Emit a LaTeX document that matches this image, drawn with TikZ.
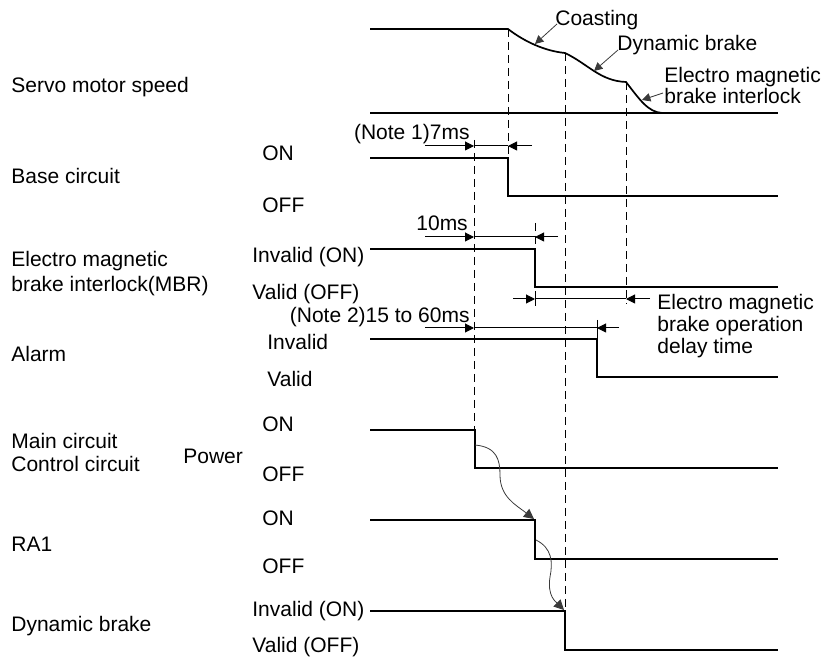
\documentclass[tikz,border=0pt]{standalone}
\usepackage{fontspec}
\setmainfont{Liberation Sans}
\usepackage{tikz}
\usetikzlibrary{arrows.meta}
\definecolor{Ink}{HTML}{000000}
\definecolor{PointerGray}{HTML}{3A3A3A}
\newcommand{\lblfont}{\fontsize{10.5}{12.6}\selectfont}
\newcommand{\drawsignal}[3]{%
  \draw[Ink,line width=0.85pt] (370,#1) -- (#2,#1) -- (#2,#3) -- (778,#3);%
}
\newcommand{\drawtimespan}[5]{%
  \draw[Ink,line width=0.5pt,-{Triangle[length=4.5pt,width=4.5pt]}]
    (#2,#1) -- (#3,#1);
  \draw[Ink,line width=0.5pt] (#3,#1) -- (#4,#1);
  \draw[Ink,line width=0.5pt,-{Triangle[length=4.5pt,width=4.5pt]}]
    (#5,#1) -- (#4,#1);%
}

\begin{document}
\begin{tikzpicture}[x=0.5pt,y=-0.5pt,
    lbl/.style={font=\lblfont,inner sep=0pt,anchor=west,
                text height=7.5pt,text depth=0pt},
    dashline/.style={Ink,line width=0.5pt,dash pattern=on 4pt off 2.5pt},
    pointer/.style={PointerGray,line width=0.4pt,
                    -{Triangle[length=4.2pt,width=4.2pt]}},
    seqarrow/.style={PointerGray,line width=0.4pt,
                     -{Triangle[length=5pt,width=5pt]}}]
        \useasboundingbox (0,0) rectangle (826,657);
        % servo motor speed
        \draw[Ink,line width=0.85pt] (370,29) -- (508,29)
          .. controls (525,42) and (545,51) .. (565,53)
          .. controls (588,64) and (600,81) .. (626,82)
          .. controls (640,100) and (648,112) .. (662,113);
        \draw[Ink,line width=0.85pt] (370,113) -- (778,113);
        \node[lbl] (lblspeed) at (11,85) {Servo motor speed};
        \node[lbl] (lblcoast) at (555,18) {Coasting};
        \node[lbl] (lbldyn) at (617,43) {Dynamic brake};
        \node[lbl] (lblinter1) at (664,75) {Electro magnetic};
        \node[lbl] (lblinter2) at (664,96) {brake interlock};
        \coordinate (coastpt) at (535,44);
        \coordinate (dynpt) at (594,71);
        \coordinate (interpt) at (642,100);
        \draw[pointer] ([shift={(2,6)}]lblcoast.west) -- (coastpt);
        \draw[pointer] ([shift={(1,7)}]lbldyn.west) -- (dynpt);
        \draw[pointer] ([shift={(-1,-3)}]lblinter2.west) -- (interpt);
        % dashed timing marks
        \draw[dashline] (474,140) -- (474,430);
        \draw[dashline] (508,29) -- (508,158);
        \draw[dashline] (535,223) -- (535,249);
        \draw[dashline] (565,53) -- (565,611);
        \draw[dashline] (626,82) -- (626,304);
        \draw[Ink,line width=0.5pt] (535,291) -- (535,306);
        \draw[Ink,line width=0.5pt] (597,320) -- (597,339);
        % signals
        \drawsignal{158}{508}{196}
        \drawsignal{249}{535}{287}
        \drawsignal{339}{597}{377}
        \drawsignal{430}{475}{468}
        \drawsignal{520}{535}{559}
        \drawsignal{611}{565}{650}
        % time spans
        \drawtimespan{146}{425}{474}{508}{532}
        \drawtimespan{237}{425}{474}{535}{558}
        \drawtimespan{299}{513}{535}{626}{650}
        \drawtimespan{328}{425}{474}{597}{619}
        \node[lbl,anchor=east] (lblnote1) at (470,132) {(Note 1)7ms};
        \node[lbl] (lbltenms) at (416,223) {10ms};
        \node[lbl,anchor=east] (lblnote2) at (470,315) {(Note 2)15 to 60ms};
        \node[lbl] (lbldelay1) at (657,302) {Electro magnetic};
        \node[lbl] (lbldelay2) at (657,324) {brake operation};
        \node[lbl] (lbldelay3) at (657,346) {delay time};
        % signal names
        \node[lbl] (lblbase) at (11,176) {Base circuit};
        \node[lbl] (lblmbr1) at (11,259) {Electro magnetic};
        \node[lbl] (lblmbr2) at (11,284) {brake interlock(MBR)};
        \node[lbl] (lblalarm) at (11,354) {Alarm};
        \node[lbl] (lblmain) at (11,441) {Main circuit};
        \node[lbl] (lblctrl) at (11,464) {Control circuit};
        \node[lbl] (lblpower) at (183,456) {Power};
        \node[lbl] (lblra) at (11,544) {RA1};
        \node[lbl] (lbldb) at (11,624) {Dynamic brake};
        % levels
        \node[lbl] (basehi) at (262,153) {ON};
        \node[lbl] (baselo) at (262,205) {OFF};
        \node[lbl] (mbrhi) at (252,255) {Invalid (ON)};
        \node[lbl] (mbrlo) at (252,292) {Valid (OFF)};
        \node[lbl] (alarmhi) at (267,342) {Invalid};
        \node[lbl] (alarmlo) at (267,379) {Valid};
        \node[lbl] (mainhi) at (262,424) {ON};
        \node[lbl] (mainlo) at (262,474) {OFF};
        \node[lbl] (rahi) at (262,518) {ON};
        \node[lbl] (ralo) at (262,566) {OFF};
        \node[lbl] (dbhi) at (252,609) {Invalid (ON)};
        \node[lbl] (dblo) at (252,645) {Valid (OFF)};
        % sequence arrows
        \coordinate (maindrop) at (475,445);
        \coordinate (raon) at (534,519);
        \coordinate (radrop) at (536,540);
        \coordinate (dbon) at (564,610);
        \draw[seqarrow] (maindrop) .. controls (497,447) and (500,460) .. (500,475)
          .. controls (500,497) and (516,505) .. (raon);
        \draw[seqarrow] (radrop) .. controls (552,548) and (553,562) .. (550,577)
          .. controls (547,596) and (556,602) .. (dbon);
      \end{tikzpicture}
\end{document}
